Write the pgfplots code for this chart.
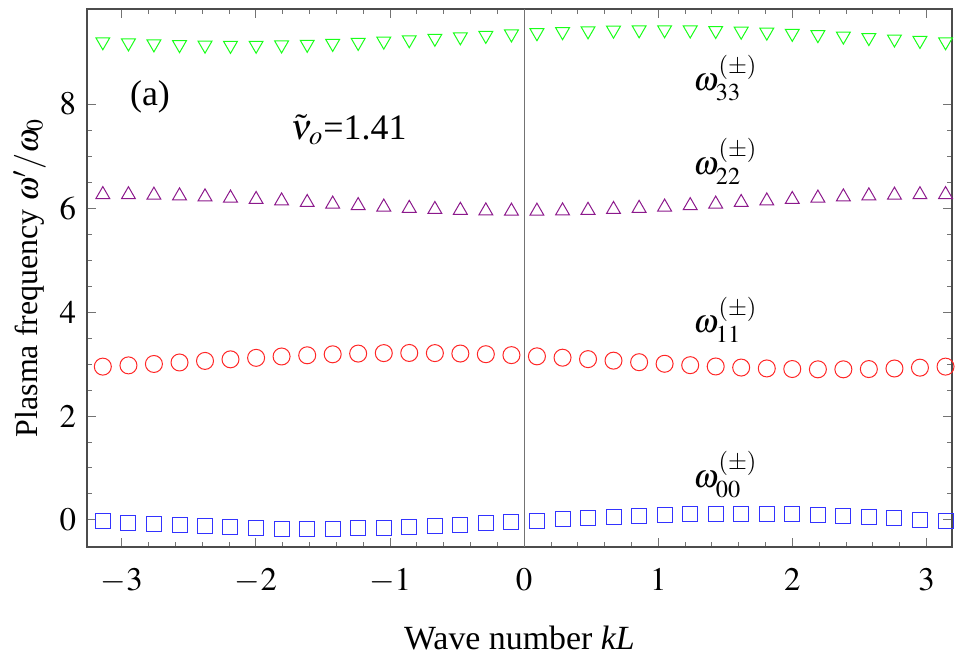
\documentclass[border=0pt]{standalone}
\usepackage{mathptmx}
\usepackage{fontspec}
\setmainfont{Liberation Serif}
\usepackage{pgfplots}
\pgfplotsset{compat=1.18}
\usetikzlibrary{calc}

\definecolor{mgreen}{rgb}{0.1,1,0.1}
\definecolor{mpurple}{rgb}{0.55,0.1,0.55}
\definecolor{mred}{rgb}{1,0.15,0.15}
\definecolor{mblue}{rgb}{0.2,0.2,1}

\begin{document}
\begin{tikzpicture}
\begin{axis}[
  scale only axis, width=432.5bp, height=269bp,
  xmin=-3.26, xmax=3.19, ymin=-0.52, ymax=9.83,
  axis line style={draw=black!70, line width=0.6pt},
  tick align=inside,
  xtick={-3,...,3}, ytick={0,2,4,6,8},
  minor x tick num=4, minor y tick num=3,
  major tick length=4.5bp, minor tick length=2.5bp,
  every tick/.style={black!55, line width=0.5pt},
  tick label style={font=\fontsize{16.5}{19}\selectfont},
  xticklabel style={yshift=-7bp},
  yticklabel style={xshift=-2bp},
  xlabel={Wave number \textit{kL}},
  ylabel={Plasma frequency $\omega'/\omega_0$},
  xlabel style={font=\fontsize{17}{20}\selectfont, yshift=-10bp},
  ylabel style={font=\fontsize{16}{19}\selectfont, yshift=0bp},
  clip=false,
  every axis plot/.append style={only marks, line width=0.5pt},
]
\draw[black!55, line width=0.5pt] (axis cs:0,-0.52) -- (axis cs:0,9.83);

% omega_33 (green, down triangles)
\addplot[mgreen, mark=triangle, mark size=4bp, mark options={rotate=180, draw=mgreen}] coordinates {
 (-3.142,9.199)(-2.951,9.177)(-2.761,9.158)(-2.570,9.144)(-2.380,9.134)(-2.190,9.130)
 (-1.999,9.132)(-1.809,9.138)(-1.618,9.150)(-1.428,9.167)(-1.238,9.187)(-1.047,9.211)
 (-0.857,9.238)(-0.666,9.266)(-0.476,9.294)(-0.286,9.322)(-0.095,9.349)(0.095,9.373)
 (0.286,9.393)(0.476,9.410)(0.666,9.422)(0.857,9.428)(1.047,9.430)(1.238,9.426)
 (1.428,9.416)(1.618,9.402)(1.809,9.384)(1.999,9.361)(2.190,9.336)(2.380,9.308)
 (2.570,9.280)(2.761,9.252)(2.951,9.224)(3.142,9.199)
};
% omega_22 (purple, up triangles)
\addplot[mpurple, mark=triangle, mark size=4bp, mark options={draw=mpurple}] coordinates {
 (-3.142,6.260)(-2.951,6.257)(-2.761,6.249)(-2.570,6.235)(-2.380,6.216)(-2.190,6.193)
 (-1.999,6.166)(-1.809,6.138)(-1.618,6.108)(-1.428,6.077)(-1.238,6.048)(-1.047,6.020)
 (-0.857,5.995)(-0.666,5.974)(-0.476,5.958)(-0.286,5.946)(-0.095,5.941)(0.095,5.941)
 (0.286,5.946)(0.476,5.958)(0.666,5.974)(0.857,5.995)(1.047,6.020)(1.238,6.048)
 (1.428,6.077)(1.618,6.108)(1.809,6.138)(1.999,6.166)(2.190,6.193)(2.380,6.216)
 (2.570,6.235)(2.761,6.249)(2.951,6.257)(3.142,6.260)
};
% omega_11 (red circles)
\addplot[mred, mark=o, mark size=4.25bp, mark options={draw=mred}] coordinates {
 (-3.142,2.950)(-2.951,2.974)(-2.761,3.001)(-2.570,3.030)(-2.380,3.060)(-2.190,3.090)
 (-1.999,3.119)(-1.809,3.145)(-1.618,3.168)(-1.428,3.187)(-1.238,3.201)(-1.047,3.210)
 (-0.857,3.213)(-0.666,3.210)(-0.476,3.202)(-0.286,3.189)(-0.095,3.171)(0.095,3.148)
 (0.286,3.122)(0.476,3.094)(0.666,3.065)(0.857,3.035)(1.047,3.005)(1.238,2.978)
 (1.428,2.953)(1.618,2.932)(1.809,2.915)(1.999,2.904)(2.190,2.898)(2.380,2.898)
 (2.570,2.903)(2.761,2.914)(2.951,2.930)(3.142,2.950)
};
% omega_00 (blue squares)
\addplot[mblue, mark=square, mark size=3.75bp, mark options={draw=mblue}] coordinates {
 (-3.142,-0.025)(-2.951,-0.052)(-2.761,-0.079)(-2.570,-0.103)(-2.380,-0.125)(-2.190,-0.143)
 (-1.999,-0.157)(-1.809,-0.166)(-1.618,-0.170)(-1.428,-0.169)(-1.238,-0.162)(-1.047,-0.151)
 (-0.857,-0.135)(-0.666,-0.115)(-0.476,-0.091)(-0.286,-0.066)(-0.095,-0.039)(0.095,-0.011)
 (0.286,0.016)(0.476,0.041)(0.666,0.065)(0.857,0.085)(1.047,0.101)(1.238,0.112)
 (1.428,0.119)(1.618,0.120)(1.809,0.116)(1.999,0.107)(2.190,0.093)(2.380,0.075)
 (2.570,0.053)(2.761,0.029)(2.951,0.002)(3.142,-0.025)
};

\node[font=\fontsize{18}{21}\selectfont] at (axis cs:-2.79,8.13) {(a)};
\node[font=\fontsize{18}{21}\selectfont] at (axis cs:-1.31,7.5) {$\tilde{\nu}_o$=1.41};
\node[font=\fontsize{16.5}{19}\selectfont] at (axis cs:1.5,8.5) {$\omega^{(\pm)}_{33}$};
\node[font=\fontsize{16.5}{19}\selectfont] at (axis cs:1.5,6.9) {$\omega^{(\pm)}_{22}$};
\node[font=\fontsize{16.5}{19}\selectfont] at (axis cs:1.5,3.85) {$\omega^{(\pm)}_{11}$};
\node[font=\fontsize{16.5}{19}\selectfont] at (axis cs:1.5,0.87) {$\omega^{(\pm)}_{00}$};
\end{axis}
\path ($(current axis.south west)+(-43.5bp,-53bp)$) rectangle ($(current axis.north east)+(1.5bp,4.5bp)$);
\end{tikzpicture}
\end{document}
